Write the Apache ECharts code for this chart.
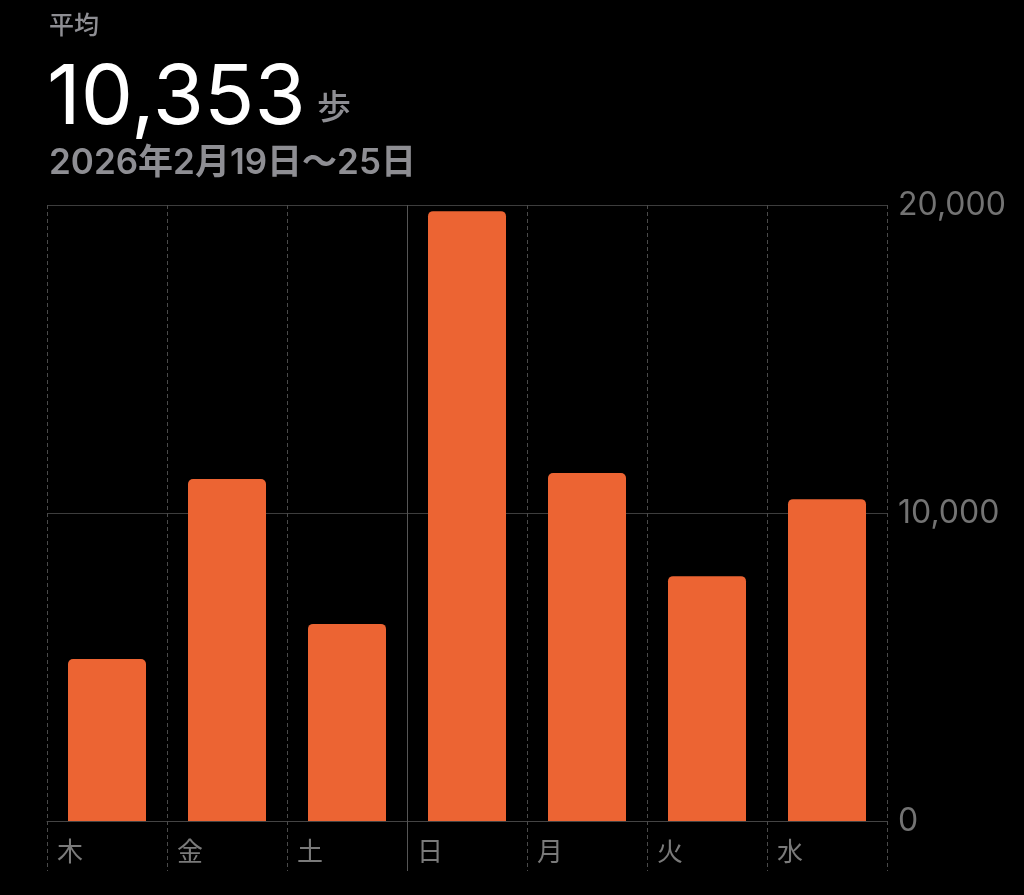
<!DOCTYPE html>
<html>
<head>
<meta charset="utf-8">
<script src="https://cdn.jsdelivr.net/npm/echarts@6/dist/echarts.min.js"></script>
<style>
html,body{margin:0;padding:0;background:#000;}
#main{width:1024px;height:895px;}
</style>
</head>
<body>
<div id="main"></div>
<script>
const categories = ['木', '金', '土', '日', '月', '火', '水'];
const steps = [5260, 11100, 6400, 19800, 11300, 7950, 10450];
const boundaries = ['', '', '', '', '', '', '', ''];
const yMin = 0, yMax = 20000, yStep = 10000;
const headerLabel = '平均';
const headerValue = '10,353';
const headerUnit = '歩';
const headerRange = '2026年2月19日〜25日';

const CJK = '"Noto Sans CJK JP", "Noto Sans", sans-serif';
const NUM = 'Inter, Roboto, "Noto Sans CJK JP", sans-serif';

const chart = echarts.init(document.getElementById('main'));
chart.setOption({
  backgroundColor: '#000',
  animation: false,
  grid: { left: 47, right: 137, top: 205, bottom: 74 },
  graphic: [
    { type: 'text', left: 49, top: 12, style: { text: headerLabel, fill: '#8e8e93', font: '500 25px ' + CJK } },
    { type: 'text', left: 47, top: 58, style: { text: headerValue, fill: '#ffffff', font: '400 83px ' + NUM } },
    { type: 'text', left: 317, top: 89, style: { text: headerUnit, fill: '#8e8e93', font: '500 34px ' + CJK } },
    { type: 'text', left: 49, top: 146, style: { text: headerRange, fill: '#8e8e93', font: '600 35px ' + NUM } }
  ],
  xAxis: [
    {
      type: 'category',
      data: categories,
      boundaryGap: true,
      axisLine: { show: true, lineStyle: { color: '#444', width: 1 } },
      axisTick: { show: false },
      splitLine: { show: false },
      axisLabel: {
        margin: 17,
        formatter: v => '{a|' + v + '}',
        rich: {
          a: { width: 110, padding: [0, 0, 0, 10], align: 'left', fontSize: 26, color: '#7a7a7a', fontFamily: CJK }
        }
      }
    },
    {
      type: 'category',
      data: boundaries,
      boundaryGap: false,
      position: 'bottom',
      axisLine: { show: false },
      axisLabel: { show: false },
      axisTick: { show: true, length: 50, interval: i => i !== 3, lineStyle: { color: '#4a4a4a', type: [4, 3], width: 1 } },
      splitLine: { show: true, interval: i => i !== 3, lineStyle: { color: '#4a4a4a', type: [4, 3], width: 1 } }
    },
    {
      type: 'category',
      data: boundaries,
      boundaryGap: false,
      position: 'bottom',
      axisLine: { show: false },
      axisLabel: { show: false },
      axisTick: { show: true, length: 50, interval: i => i === 3, lineStyle: { color: '#555', width: 1 } },
      splitLine: { show: true, interval: i => i === 3, lineStyle: { color: '#555', width: 1 } }
    }
  ],
  yAxis: {
    type: 'value',
    position: 'right',
    min: yMin, max: yMax, interval: yStep,
    axisLine: { show: false },
    axisTick: { show: false },
    splitLine: { show: true, lineStyle: { color: '#3d3d3d', width: 1 } },
    axisLabel: {
      margin: 11,
      color: '#737373',
      fontSize: 32,
      fontFamily: NUM,
      formatter: v => v.toLocaleString('en-US')
    }
  },
  series: [{
    type: 'bar',
    xAxisIndex: 0,
    data: steps,
    barWidth: 78,
    itemStyle: { color: '#EC6433', borderRadius: [5, 5, 0, 0] },
    z: 3
  }]
});
</script>
</body>
</html>
